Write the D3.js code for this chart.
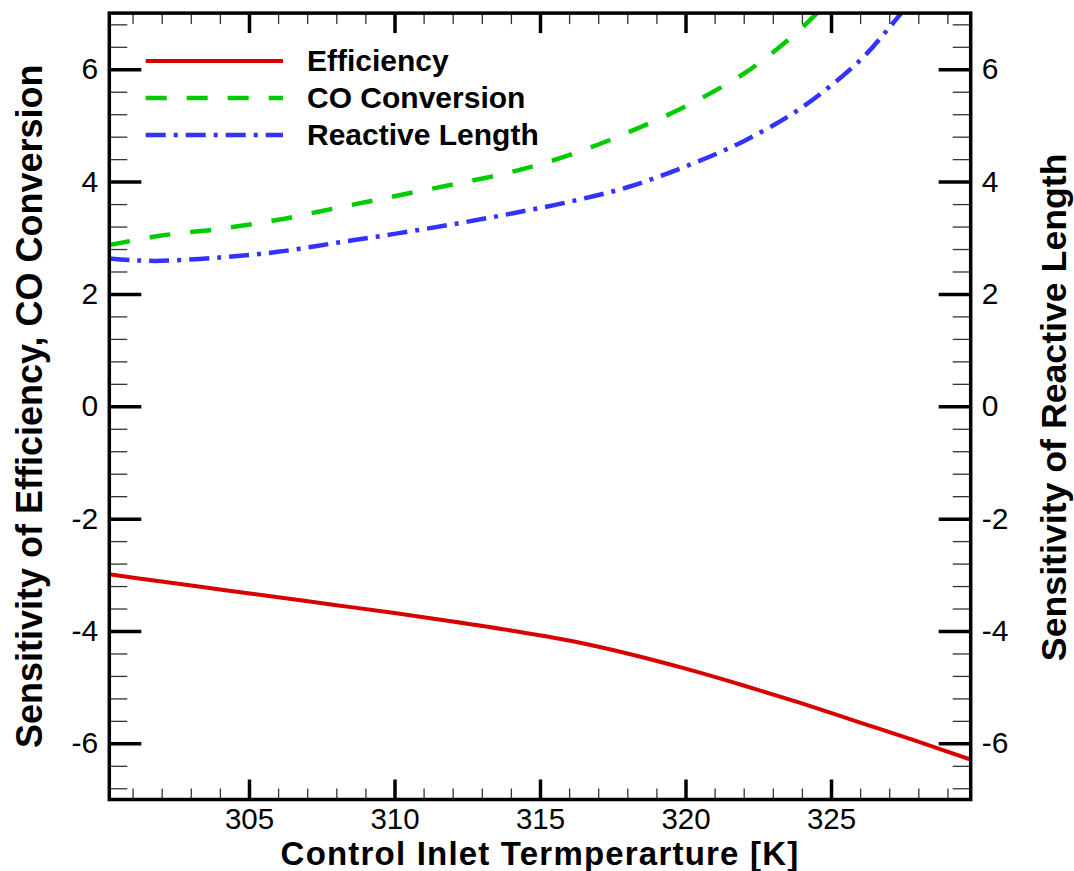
<!DOCTYPE html>
<html>
<head>
<meta charset="utf-8">
<script src="https://cdn.jsdelivr.net/npm/d3@7"></script>
<style>
  html, body { margin: 0; padding: 0; background: #fff; }
  svg { display: block; }
  text { font-family: "Liberation Sans", Arial, sans-serif; fill: #000; }
</style>
</head>
<body>
<svg id="chart" width="1074" height="871"></svg>
<script>
// ---------------- data ----------------
const temperature = [300.2, 302, 304, 306, 308, 310, 312, 314, 316, 318, 320, 322, 324, 326, 328, 329.8];
const efficiency  = [-2.99, -3.12, -3.26, -3.40, -3.54, -3.68, -3.83, -3.99, -4.17, -4.40, -4.67, -4.97, -5.29, -5.63, -5.97, -6.29];

const tempCO = [300.2, 302, 304, 306, 308, 310, 312, 314, 316, 318, 320, 322, 323, 324, 325];
const coConversion = [2.87, 3.04, 3.16, 3.32, 3.53, 3.74, 3.95, 4.17, 4.47, 4.87, 5.34, 5.92, 6.30, 6.74, 7.25];

const tempRL = [300.2, 301, 302, 304, 306, 308, 310, 312, 314, 316, 318, 320, 322, 324, 326, 327, 327.8];
const reactiveLength = [2.63, 2.60, 2.59, 2.65, 2.75, 2.91, 3.07, 3.24, 3.43, 3.64, 3.90, 4.27, 4.72, 5.32, 6.16, 6.74, 7.25];

const xDomain = [300.2, 329.8];
const yDomain = [-7, 7];
const xMajorTicks = [305, 310, 315, 320, 325];
const yMajorTicks = [-6, -4, -2, 0, 2, 4, 6];
const seriesNames = ["Efficiency", "CO Conversion", "Reactive Length"];
const xTitle = "Control Inlet Termperarture [K]";
const yLeftTitle = "Sensitivity of Efficiency, CO Conversion";
const yRightTitle = "Sensitivity of Reactive Length";

// ---------------- layout ----------------
const L = 109.3, R = 970.7, T = 13.1, B = 799.5;
const svg = d3.select("#chart");

const x = d3.scaleLinear().domain(xDomain).range([L, R]);
const y = d3.scaleLinear().domain(yDomain).range([B, T]);

const xMinor = d3.range(301, 330, 1).filter(v => !xMajorTicks.includes(v));
const yMinor = d3.range(-68, 70, 4).map(v => v / 10).filter(v => !yMajorTicks.includes(v));
const fmt = d => String(d);

function styleAxis(g, majorWidth, fs) {
  g.select(".domain").remove();
  g.selectAll(".tick line").attr("stroke", "#000").attr("stroke-width", majorWidth);
  g.selectAll(".tick text").style("font-size", (fs || 30) + "px").attr("fill", "#000");
}

// minor ticks
const minorCol = "#333";
svg.append("g").attr("transform", `translate(0,${B})`)
  .call(d3.axisBottom(x).tickValues(xMinor).tickSizeInner(-11).tickSizeOuter(0).tickFormat(""))
  .call(g => { styleAxis(g, 1.3); g.selectAll(".tick line").attr("stroke", minorCol); });
svg.append("g").attr("transform", `translate(0,${T})`)
  .call(d3.axisTop(x).tickValues(xMinor).tickSizeInner(-11).tickSizeOuter(0).tickFormat(""))
  .call(g => { styleAxis(g, 1.3); g.selectAll(".tick line").attr("stroke", minorCol); });
svg.append("g").attr("transform", `translate(${L},0)`)
  .call(d3.axisLeft(y).tickValues(yMinor).tickSizeInner(-18).tickSizeOuter(0).tickFormat(""))
  .call(g => { styleAxis(g, 1.3); g.selectAll(".tick line").attr("stroke", minorCol); });
svg.append("g").attr("transform", `translate(${R},0)`)
  .call(d3.axisRight(y).tickValues(yMinor).tickSizeInner(-18).tickSizeOuter(0).tickFormat(""))
  .call(g => { styleAxis(g, 1.3); g.selectAll(".tick line").attr("stroke", minorCol); });

// major ticks + labels
svg.append("g").attr("transform", `translate(0,${B})`)
  .call(d3.axisBottom(x).tickValues(xMajorTicks).tickSizeInner(-20).tickSizeOuter(0).tickPadding(9).tickFormat(fmt))
  .call(g => styleAxis(g, 3.5, 29.5));
svg.append("g").attr("transform", `translate(0,${T})`)
  .call(d3.axisTop(x).tickValues(xMajorTicks).tickSizeInner(-20).tickSizeOuter(0).tickFormat(""))
  .call(g => styleAxis(g, 3.5));
svg.append("g").attr("transform", `translate(${L},0)`)
  .call(d3.axisLeft(y).tickValues(yMajorTicks).tickSizeInner(-32).tickSizeOuter(0).tickPadding(11).tickFormat(fmt))
  .call(g => styleAxis(g, 3.5, 30));
svg.append("g").attr("transform", `translate(${R},0)`)
  .call(d3.axisRight(y).tickValues(yMajorTicks).tickSizeInner(-32).tickSizeOuter(0).tickPadding(11).tickFormat(fmt))
  .call(g => styleAxis(g, 3.5, 30));

// clip
svg.append("clipPath").attr("id", "plotclip")
  .append("rect").attr("x", L).attr("y", T).attr("width", R - L).attr("height", B - T);

const line = d3.line().curve(d3.curveCatmullRom.alpha(0.5));
const plot = svg.append("g").attr("clip-path", "url(#plotclip)");

const series = [
  { t: temperature, v: efficiency, color: "#d90000", width: 4, dash: null },
  { t: tempCO, v: coConversion, color: "#00cc00", width: 4.5, dash: "21,20" },
  { t: tempRL, v: reactiveLength, color: "#3333ff", width: 4.5, dash: "20,8,4,8" }
];
series.forEach(s => {
  plot.append("path")
    .attr("d", line(s.t.map((t, i) => [x(t), y(s.v[i])])))
    .attr("fill", "none")
    .attr("stroke", s.color)
    .attr("stroke-width", s.width)
    .attr("stroke-dasharray", s.dash);
});

// frame
svg.append("rect").attr("x", L).attr("y", T).attr("width", R - L).attr("height", B - T)
  .attr("fill", "none").attr("stroke", "#000").attr("stroke-width", 3.5);

// legend
const legRows = [61, 98, 135];
series.forEach((s, i) => {
  svg.append("line")
    .attr("x1", 145.7).attr("x2", 283).attr("y1", legRows[i]).attr("y2", legRows[i])
    .attr("stroke", s.color).attr("stroke-width", s.width).attr("stroke-dasharray", s.dash);
  svg.append("text").attr("x", 307).attr("y", legRows[i] + 10)
    .style("font-size", "30px").style("font-weight", "bold")
    .text(seriesNames[i]);
});

// axis titles
svg.append("text").attr("x", (L + R) / 2).attr("y", 865)
  .attr("text-anchor", "middle").style("font-size", "33px").style("font-weight", "bold")
  .style("letter-spacing", "1.2px")
  .text(xTitle);
svg.append("text").attr("transform", `translate(42,${(T + B) / 2}) rotate(-90)`)
  .attr("text-anchor", "middle").style("font-size", "36px").style("font-weight", "bold")
  .text(yLeftTitle);
svg.append("text").attr("transform", `translate(1066,${(T + B) / 2 + 1}) rotate(-90)`)
  .attr("text-anchor", "middle").style("font-size", "35.7px").style("font-weight", "bold")
  .text(yRightTitle);
</script>
</body>
</html>
